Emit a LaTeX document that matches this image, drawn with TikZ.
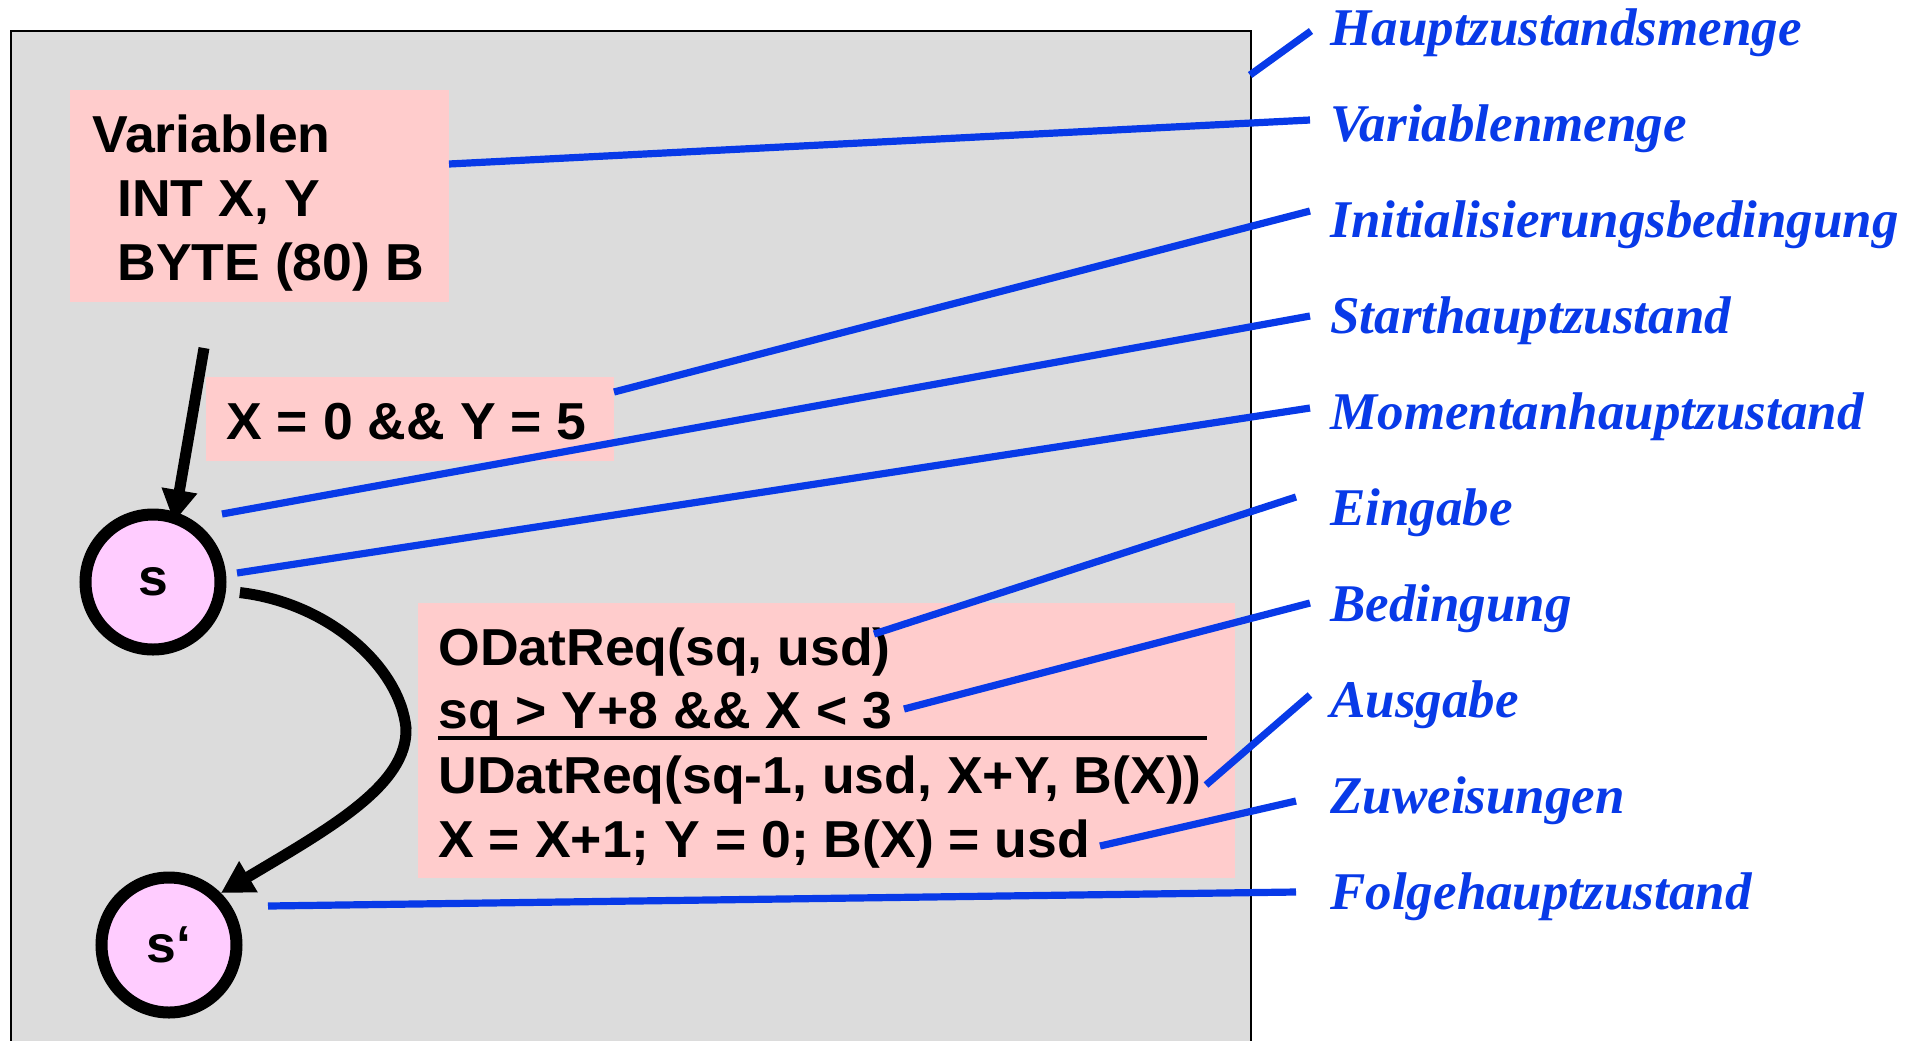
\documentclass[tikz,border=0pt]{standalone}
\usepackage{fontspec}
\setmainfont{Liberation Serif}
\newfontfamily\codefont[FakeStretch=1.03]{Liberation Sans}
\usetikzlibrary{arrows.meta}

\definecolor{panelgray}{RGB}{220,220,220}
\definecolor{notepink}{RGB}{255,204,204}
\definecolor{statepink}{RGB}{255,204,255}
\definecolor{leaderblue}{RGB}{8,58,232}

\begin{document}
\begin{tikzpicture}[x=0.5pt,y=-0.5pt,
  code/.style={font=\codefont\bfseries\fontsize{26}{31}\selectfont,
    anchor=base west, inner sep=0pt},
  term/.style={font=\bfseries\itshape\fontsize{26.5}{32}\selectfont,
    text=leaderblue, anchor=base west, inner sep=0pt},
  note/.style={fill=notepink, draw=none, inner sep=0pt, anchor=north west},
  state/.style={circle, draw=black, line width=6pt, fill=statepink,
    minimum size=67.5pt, inner sep=0pt,
    font=\codefont\bfseries\fontsize{26}{31}\selectfont},
  leader/.style={draw=leaderblue, line width=3.6pt},
  trans/.style={draw=black, line width=5.5pt,
    -{Triangle[length=16pt,width=17pt]}},
]
\clip (0,0) rectangle (1923,1040);
\fill[white] (0,0) rectangle (1923,1040);

% main state set
\node[draw=black, line width=1.15pt, fill=panelgray, anchor=north west,
  minimum width=620pt, minimum height=520pt, inner sep=0pt] (panel) at (10,30) {};

% variable declarations
\node[note, minimum width=189.5pt, minimum height=106pt] (vars) at (70,90) {};
\node[code] (v1) at (92,152) {Variablen};
\node[code] (v2) at (117,216) {INT X, Y};
\node[code] (v3) at (117,280) {BYTE (80) B};

% initial condition
\node[note, minimum width=204pt, minimum height=42pt] (initbox) at (206,377) {};
\node[code] (initcond) at (226,439) {X = 0 \&\& Y = 5};

% transition label
\node[note, minimum width=408.5pt, minimum height=137.5pt] (tbox) at (418,603) {};
\node[code] (t1) at (438,665) {ODatReq(sq, usd)};
\node[code] (t2) at (438,728) {sq > Y+8 \&\& X < 3};
\node[code] (t3) at (438,793) {UDatReq(sq-1, usd, X+Y, B(X))};
\node[code] (t4) at (438,857) {X = X+1; Y = 0; B(X) = usd};
\draw[line width=2pt] (t2.base west |- 0,738) coordinate (r0) -- (1207,738) coordinate (r1);

% states
\node[state] (s) at (153,582) {s};
\node[state] (s2) at (169,945) {s‘};

% start arrow and transition
\coordinate (init) at (204,348);
\draw[trans, shorten >=-5pt] (init) -- (s.72);
\draw[trans, shorten <=7pt] (s.-7) .. controls (330,603) and (400,668) .. (406,728)
  .. controls (408,785) and (330,828) .. (s2.45);

% terms
\node[term] (h1) at (1330,45)  {Hauptzustandsmenge};
\node[term] (h2) at (1330,141) {Variablenmenge};
\node[term] (h3) at (1330,237) {Initialisierungsbedingung};
\node[term] (h4) at (1330,333) {Starthauptzustand};
\node[term] (h5) at (1330,429) {Momentanhauptzustand};
\node[term] (h6) at (1330,525) {Eingabe};
\node[term] (h7) at (1330,621) {Bedingung};
\node[term] (h8) at (1330,717) {Ausgabe};
\node[term] (h9) at (1330,813) {Zuweisungen};
\node[term] (h10) at (1330,909) {Folgehauptzustand};

% leader lines
\coordinate (a1) at (1250,75);   \coordinate (b1) at (1311,31);
\coordinate (a2) at (449,164);   \coordinate (b2) at (1310,120);
\coordinate (a3) at (614,392);   \coordinate (b3) at (1310,211);
\coordinate (a4) at (222,514);   \coordinate (b4) at (1310,316);
\coordinate (a5) at (237,573);   \coordinate (b5) at (1310,408);
\coordinate (a6) at (874,634);   \coordinate (b6) at (1296,497);
\coordinate (a7) at (904,709);   \coordinate (b7) at (1310,603);
\coordinate (a8) at (1206,785);  \coordinate (b8) at (1310,695);
\coordinate (a9) at (1100,846);  \coordinate (b9) at (1296,801);
\coordinate (a10) at (268,906);  \coordinate (b10) at (1296,892);
\foreach \i in {1,...,10} { \draw[leader] (a\i) -- (b\i); }
\end{tikzpicture}
\end{document}
